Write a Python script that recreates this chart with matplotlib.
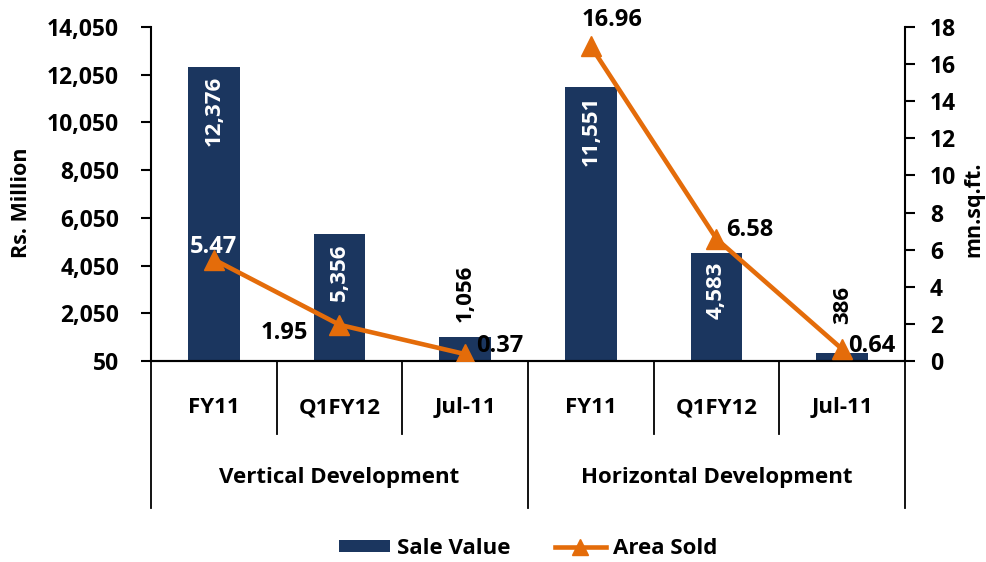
import matplotlib.pyplot as plt
from matplotlib.ticker import FuncFormatter

plt.rcParams['font.family'] = ['Open Sans', 'DejaVu Sans']
plt.rcParams['font.weight'] = 'bold'

periodos = ['FY11', 'Q1FY12', 'Jul-11', 'FY11', 'Q1FY12', 'Jul-11']
grupos = ['Vertical Development', 'Horizontal Development']
sale_value = [12376, 5356, 1056, 11551, 4583, 386]
area_sold = [5.47, 1.95, 0.37, 16.96, 6.58, 0.64]

azul = '#1B365F'
naranja = '#E46C0A'

fig = plt.figure(figsize=(9.87, 5.62), dpi=100)
ax = fig.add_axes([151 / 987, 201 / 562, 754 / 987, 334 / 562])
ax2 = ax.twinx()

x = list(range(len(periodos)))
barras = ax.bar(x, sale_value, width=0.41, color=azul, label='Sale Value', zorder=2)
# la linea se corta entre los dos grupos
for g in range(len(grupos)):
    xs = x[g * 3:(g + 1) * 3]
    ys = area_sold[g * 3:(g + 1) * 3]
    linea, = ax2.plot(xs, ys, color=naranja, lw=3.3, marker='^', markersize=14,
                      label='Area Sold', zorder=3)

ax.set_xlim(-0.5, len(periodos) - 0.5)
ax.set_ylim(50, 14050)
ax.set_yticks(range(50, 14051, 2000))
ax.yaxis.set_major_formatter(FuncFormatter(lambda v, p: f'{int(v):,}'))
ax2.set_ylim(0, 18)
ax2.set_yticks(range(0, 19, 2))

for a in (ax, ax2):
    a.spines['top'].set_visible(False)
    a.tick_params(axis='y', labelsize=16.5, width=1.5, length=7, direction='out')
    for s in a.spines.values():
        s.set_linewidth(1.5)
ax.tick_params(axis='y', pad=16)
ax2.tick_params(axis='y', pad=11)
ax.set_xticks([])
ax2.set_xticks([])
ax.spines['right'].set_visible(False)
ax2.spines['left'].set_visible(False)

ax.set_ylabel('Rs. Million', fontsize=15.5, fontweight='bold')
ax.yaxis.set_label_coords(-0.158, 0.473)
ax2.set_ylabel('mn.sq.ft.', fontsize=15.5, fontweight='bold')
ax2.yaxis.set_label_coords(1.078, 0.455)

# etiquetas de barras
for i, v in enumerate(sale_value):
    txt = f'{v:,}'
    if v > 3000:
        ax.text(i, v - 370, txt, rotation=90, ha='center', va='top', color='white',
                fontsize=16, fontweight='bold', zorder=4)
    else:
        sep = 630 if v > 1000 else 1215
        ax.text(i, v + sep, txt, rotation=90, ha='center', va='bottom', color='black',
                fontsize=16, fontweight='bold', zorder=4)

# etiquetas de la linea (desplazamiento en puntos)
offsets = [(0, 9, 'white'), (-40, -6, 'black'), (25, 6, 'black'),
           (15, 19, 'black'), (24, 6.5, 'black'), (21, 2, 'black')]
for i, v in enumerate(area_sold):
    dx, dy, col = offsets[i]
    ax2.annotate(f'{v:.2f}', (i, v), xytext=(dx, dy), textcoords='offset points',
                 ha='center', va='center', color=col, fontsize=17, fontweight='bold',
                 zorder=5)

# eje de categorias agrupado
tr = ax.get_xaxis_transform()
for k in range(len(periodos) + 1):
    b = k - 0.5
    y_fin = -0.44 if k % 3 == 0 else -0.22
    ax.plot([b, b], [0, y_fin], color='black', lw=1.3, transform=tr, clip_on=False)
for i, p in enumerate(periodos):
    ax.text(i, -0.14, p, transform=tr, ha='center', va='center', fontsize=16,
            fontweight='bold')
for g, nombre in enumerate(grupos):
    ax.text(g * 3 + 1, -0.35, nombre, transform=tr, ha='center', va='center',
            fontsize=16, fontweight='bold')

fig.legend([barras, linea], ['Sale Value', 'Area Sold'], loc='center',
           bbox_to_anchor=(0.535, 0.024), ncol=2, frameon=False, fontsize=16,
           handlelength=2.3, handleheight=0.5, columnspacing=2, handletextpad=0.3,
           markerscale=0.8)

plt.savefig('out.png', dpi=100)
